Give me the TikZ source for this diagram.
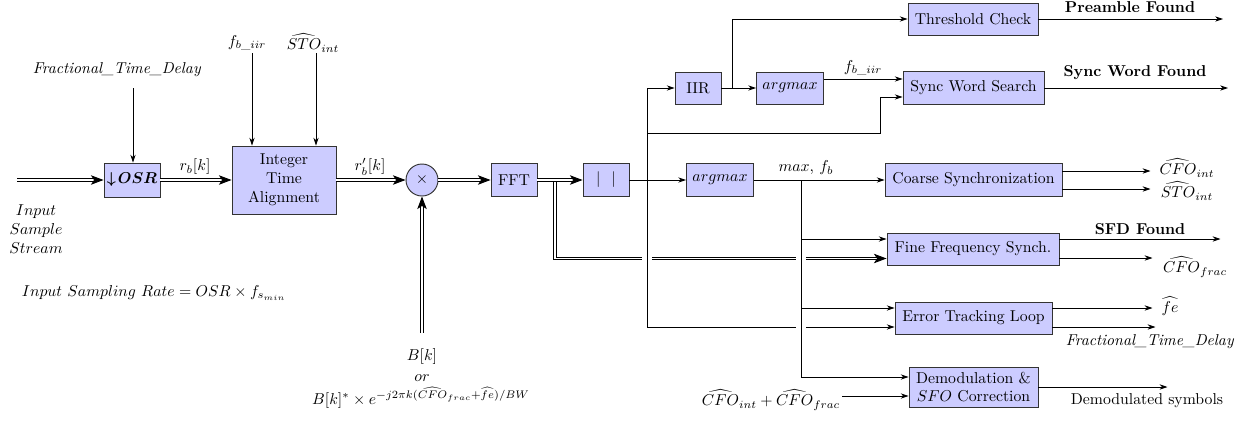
\documentclass[tikz,border=0pt]{standalone}
\usepackage{amsmath}
\usetikzlibrary{arrows.meta,calc}
\newlength\px \setlength\px{0.635pt}
\begin{document}
\begin{tikzpicture}[x=0.635pt,y=-0.635pt,
  blk/.style={draw=black!80, fill=blue!20, line width=0.6pt, inner sep=0pt, align=center},
  sarr/.style={-{Stealth[length=5pt,width=3.4pt]}, line width=0.6pt},
  pline/.style={line width=0.6pt},
  dline/.style={double, double distance=1.2pt, line width=0.55pt},
  darr/.style={dline, -{Stealth[length=8pt,width=6pt,inset=2pt]}},
  lbl/.style={inner sep=0pt},
  halo/.style={preaction={draw=white, line width=6pt}}
]
\useasboundingbox (0,0) rectangle (1247,423);

% blocks
\node[blk, minimum width=56\px, minimum height=34\px] (osr) at (132,180) {$\boldsymbol{\downarrow\! OSR}$};
\node[blk, minimum width=104\px, minimum height=68\px] (ita) at (284,180) {Integer\\Time\\Alignment};
\node[draw=black!80, fill=blue!20, line width=0.6pt, circle, minimum size=32\px, inner sep=0pt] (mult) at (422,180) {$\times$};
\node[blk, minimum width=46\px, minimum height=33\px] (fft) at (514,180) {FFT};
\node[blk, minimum width=46\px, minimum height=33\px] (abs) at (606,180) {$|\hspace{7pt}|$};
\node[blk, minimum width=46\px, minimum height=32\px] (iir) at (698,88) {IIR};
\node[blk, minimum width=67\px, minimum height=32\px] (am1) at (790,88) {$argmax$};
\node[blk, minimum width=130\px, minimum height=32\px] (thr) at (973,19) {Threshold Check};
\node[blk, minimum width=141\px, minimum height=33\px] (sws) at (973.5,88) {Sync Word Search};
\node[blk, minimum width=67\px, minimum height=33\px] (am2) at (720,180) {$argmax$};
\node[blk, minimum width=177\px, minimum height=33\px] (coarse) at (973.5,180) {Coarse Synchronization};
\node[blk, minimum width=172\px, minimum height=32\px] (fine) at (973,249) {Fine Frequency Synch.};
\node[blk, minimum width=157\px, minimum height=32\px] (err) at (973.5,318) {Error Tracking Loop};
\node[blk, minimum width=129\px, minimum height=40\px] (demod) at (973.5,387) {Demodulation \&\\$SFO$ Correction};

% labels
\node[lbl] (ftd) at (117,70) {\textit{Fractional\_Time\_Delay}};
\node[lbl] (rb) at (195,167) {$r_b[k]$};
\node[lbl] (fbl) at (247,43) {$f_{b\_iir}$};
\node[lbl] (stol) at (313,43) {$\widehat{STO}_{int}$};
\node[lbl] (rbp) at (370,167) {$r'_b[k]$};
\node[lbl] (bk) at (422,357) {$B[k]$};
\node[lbl] (bor) at (422,378) {$or$};
\node[lbl] (bform) at (421,398) {$B[k]^{*}\times e^{-j2\pi k(\widehat{CFO}_{frac}+\widehat{fe})/BW}$};
\node[lbl, align=center] (inlab) at (36,229) {$Input$\\$Sample$\\$Stream$};
\node[lbl] (isr) at (154,293) {$Input\ Sampling\ Rate = OSR\times f_{s_{min}}$};
\node[lbl] (fbl2) at (863,68) {$f_{b\_iir}$};
\node[lbl] (pf) at (1130,7) {\textbf{Preamble Found}};
\node[lbl] (swf) at (1135,73) {\textbf{Sync Word Found}};
\node[lbl] (mfb) at (806,168) {$max,\, f_b$};
\node[lbl] (cfoi) at (1187,168) {$\widehat{CFO}_{int}$};
\node[lbl] (stoi) at (1187,191) {$\widehat{STO}_{int}$};
\node[lbl] (sfd) at (1140,229) {\textbf{SFD Found}};
\node[lbl] (cfof) at (1195,267) {$\widehat{CFO}_{frac}$};
\node[lbl] (fel) at (1170,306) {$\widehat{fe}$};
\node[lbl] (ftd2) at (1150,342) {\textit{Fractional\_Time\_Delay}};
\node[lbl] (dsym) at (1147,401) {Demodulated symbols};
\node[lbl] (cfosum) at (771,400) {$\widehat{CFO}_{int}+\widehat{CFO}_{frac}$};

% coordinates
\coordinate (in) at (17,180);
\coordinate (ftdtop) at (133,88);
\coordinate (fbtop) at (252,53);
\coordinate (stotop) at (316,53);
\coordinate (bbot) at (422,333);
\coordinate (br) at (555,180);
\coordinate (v1t) at (647,88);
\coordinate (v1m) at (647,133);
\coordinate (v1b) at (647,327);
\coordinate (swsin) at (880,97);
\coordinate (j1) at (732,88);
\coordinate (v2t) at (801,180);
\coordinate (v2b) at (801,377);
\coordinate (o1) at (1223,19);
\coordinate (o2) at (1228,88);
\coordinate (cfin) at (842,396);
\coordinate (fin1) at ($(fine.west)+(0,-10)$);
\coordinate (fin2) at ($(fine.west)+(0,9.5)$);
\coordinate (ein1) at ($(err.west)+(0,-10)$);

% left part
\draw[darr] (in) -- (osr);
\draw[sarr] (ftdtop) -- (ftdtop |- osr.north);
\draw[darr] (osr) -- (ita);
\draw[sarr] (fbtop) -- (fbtop |- ita.north);
\draw[sarr] (stotop) -- (stotop |- ita.north);
\draw[darr] (ita) -- (mult);
\draw[darr] (bbot) -- (mult);
\draw[darr] (mult) -- (fft);

% double branch to fine synch
\draw[darr] (br) |- (fin2);
\draw[darr] (fft) -- (abs);

% vertical buses with crossing gaps
\draw[pline, halo] (v1t) -- (v1b);
\draw[sarr] (v1b) -- (v1b -| err.west);
\draw[pline, halo] (v2t) -- (v2b);

% remaining connectors
\draw[sarr] (abs) -- (am2);
\draw[sarr] (v1t) -- (iir);
\draw[sarr] (v1m) -| (swsin) -- (swsin -| sws.west);
\draw[sarr] (iir) -- (am1);
\draw[sarr] (j1) |- (thr);
\draw[sarr] ($(am1.east)+(0,-9)$) -- ($(sws.west)+(0,-9)$);
\draw[sarr] (thr) -- (o1);
\draw[sarr] (sws) -- (o2);
\draw[sarr] (am2) -- (coarse);
\draw[sarr] (fin1 -| v2t) -- (fin1);
\draw[sarr] (ein1 -| v2t) -- (ein1);
\draw[sarr] (v2b) -- (v2b -| demod.west);
\draw[sarr] (cfin) -- (cfin -| demod.west);

% outputs
\draw[sarr] ($(coarse.east)+(0,-9)$) -- ++(88,0);
\draw[sarr] ($(coarse.east)+(0,9)$) -- ++(88,0);
\draw[sarr] ($(fine.east)+(0,-10)$) -- ++(161,0);
\draw[sarr] ($(fine.east)+(0,9)$) -- ++(93,0);
\draw[sarr] ($(err.east)+(0,-10)$) -- ++(100,0);
\draw[sarr] ($(err.east)+(0,9)$) -- ++(103,0);
\draw[sarr] (demod.east) -- ++(129,0);
\end{tikzpicture}
\end{document}
